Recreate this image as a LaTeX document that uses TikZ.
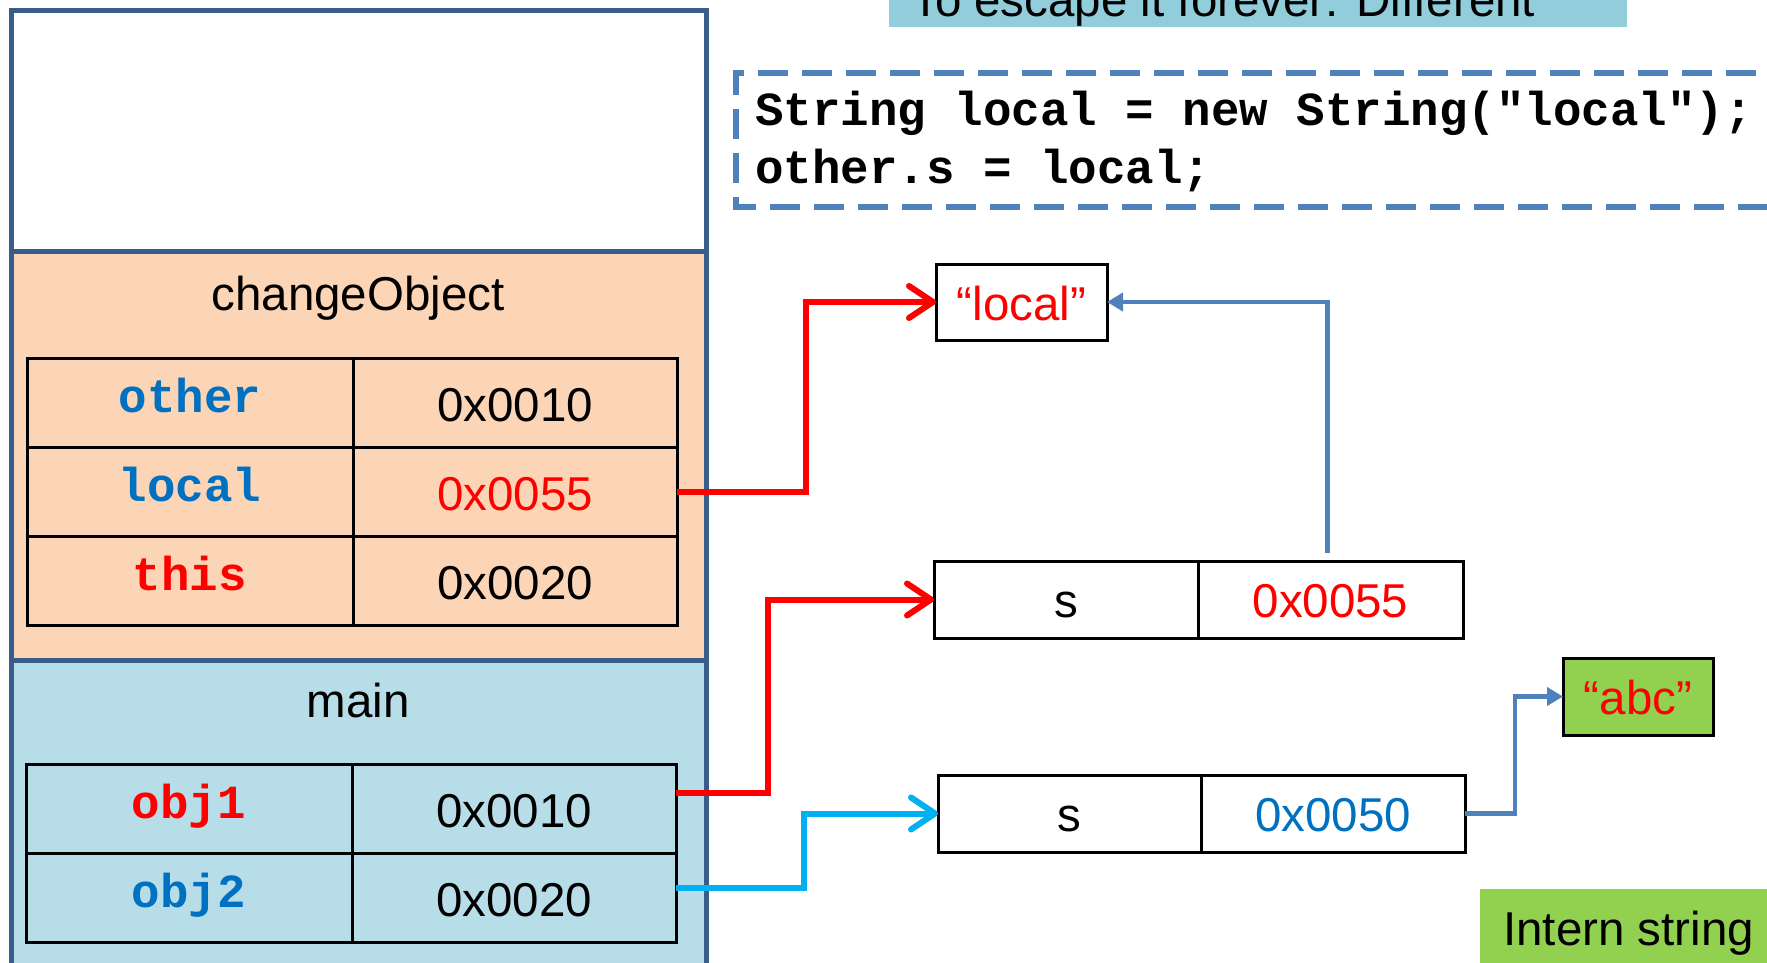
\documentclass[tikz,border=0pt]{standalone}
\usepackage{fontspec}
\setmainfont{Liberation Sans}
\setmonofont{Liberation Mono}
\usetikzlibrary{arrows.meta}
\definecolor{framec}{HTML}{385D8A}
\definecolor{orangef}{HTML}{FBD5B5}
\definecolor{bluef}{HTML}{B7DDE8}
\definecolor{titlef}{HTML}{92CDDC}
\definecolor{greenf}{HTML}{92D050}
\definecolor{accent}{HTML}{4F81BD}
\definecolor{cyanc}{HTML}{00B0F0}
\definecolor{tblue}{HTML}{0070C0}
\definecolor{tred}{HTML}{FF0000}
\tikzset{
  lbl/.style={font=\fontsize{47.5}{57}\selectfont, inner sep=0pt, anchor=base},
  codetxt/.style={font=\fontsize{47.5}{57}\selectfont\ttfamily\bfseries, inner sep=0pt, anchor=base},
  cell/.style={draw=black, line width=3pt, inner sep=0pt, outer sep=0pt, rectangle},
  redarrow/.style={draw=tred, line width=6pt, -{Straight Barb[length=24pt,width=32pt,round]}},
  cyanarrow/.style={draw=cyanc, line width=6pt, -{Straight Barb[length=24pt,width=32pt,round]}},
  bluearrow/.style={draw=accent, line width=4.5pt, -{Triangle[length=16pt,width=18pt]}},
}
\begin{document}
\begin{tikzpicture}[x=1pt,y=-1pt]
\useasboundingbox (0,0) rectangle (1767,963);
\clip (0,0) rectangle (1767,963);
% title box (cut off at top)
\node[fill=titlef, inner sep=0pt, outer sep=0pt, minimum width=738pt, minimum height=60pt] (titlebox) at (1258,-3) {};
\node[lbl, anchor=base west] (titletxt) at (911,17) {To escape it forever: Different};
% stack frame
\fill[white] (11,11) rectangle (706,251);
\fill[orangef] (11,251) rectangle (706,660);
\fill[bluef] (11,660) rectangle (706,990);
\draw[framec, line width=5pt] (11,990) -- (11,11) -- (706,11) -- (706,990);
\draw[framec, line width=5pt] (11,251) -- (706,251);
\draw[framec, line width=5pt] (11,660) -- (706,660);
\node[lbl] (cotitle) at (358,310) {changeObject};
\node[lbl] (maintitle) at (358,717) {main};
% changeObject table
\node[cell, minimum width=326pt, minimum height=89pt] (c1n) at (190,402.5) {};
\node[cell, minimum width=324pt, minimum height=89pt] (c1v) at (515,402.5) {};
\node[cell, minimum width=326pt, minimum height=89pt] (c2n) at (190,491.5) {};
\node[cell, minimum width=324pt, minimum height=89pt] (c2v) at (515,491.5) {};
\node[cell, minimum width=326pt, minimum height=89pt] (c3n) at (190,580.5) {};
\node[cell, minimum width=324pt, minimum height=89pt] (c3v) at (515,580.5) {};
\node[codetxt, text=tblue] (t1n) at (190,412) {other};
\node[lbl] (t1v) at (515,421) {0x0010};
\node[codetxt, text=tblue] (t2n) at (190,501) {local};
\node[lbl, text=tred] (t2v) at (515,510) {0x0055};
\node[codetxt, text=tred] (t3n) at (190,590) {this};
\node[lbl] (t3v) at (515,599) {0x0020};
% main table
\node[cell, minimum width=326pt, minimum height=89pt] (m1n) at (189,808.5) {};
\node[cell, minimum width=324pt, minimum height=89pt] (m1v) at (514,808.5) {};
\node[cell, minimum width=326pt, minimum height=89pt] (m2n) at (189,897.5) {};
\node[cell, minimum width=324pt, minimum height=89pt] (m2v) at (514,897.5) {};
\node[codetxt, text=tred] (u1n) at (189,818) {obj1};
\node[lbl] (u1v) at (514,827) {0x0010};
\node[codetxt, text=tblue] (u2n) at (189,907) {obj2};
\node[lbl] (u2v) at (514,916) {0x0020};
% code box
\draw[accent, line width=6pt, dash pattern=on 30pt off 14pt] (1800,73) -- (736,73) -- (736,207) -- (1800,207);
\node[codetxt, anchor=base west] (code1) at (755,126) {String local = new String("local");};
\node[codetxt, anchor=base west] (code2) at (755,183) {other.s = local;};
% heap objects
\node[cell, minimum width=171pt, minimum height=76pt] (lstr) at (1021.5,302) {};
\node[lbl, text=tred] (lstrt) at (1021.5,320) {“local”};
\node[cell, minimum width=264pt, minimum height=77pt] (s1n) at (1066,599.5) {};
\node[cell, minimum width=265pt, minimum height=77pt] (s1v) at (1330.5,599.5) {};
\node[lbl] (s1nt) at (1066,617) {s};
\node[lbl, text=tred] (s1vt) at (1330.5,617) {0x0055};
\node[cell, minimum width=263pt, minimum height=77pt] (s2n) at (1069.5,813.5) {};
\node[cell, minimum width=264pt, minimum height=77pt] (s2v) at (1333,813.5) {};
\node[lbl] (s2nt) at (1069.5,831) {s};
\node[lbl, text=tblue] (s2vt) at (1333,831) {0x0050};
\node[cell, fill=greenf, minimum width=150pt, minimum height=77pt] (abc) at (1638,696.5) {};
\node[lbl, text=tred] (abct) at (1638,714) {“abc”};
\node[fill=greenf, inner sep=0pt, outer sep=0pt, minimum width=320pt, minimum height=100pt, anchor=north west] (intern) at (1480,889) {};
\node[lbl, anchor=base west] (interntxt) at (1503,945) {Intern string};
% connectors
\draw[redarrow] (c2v.east) -- ++(129,0) |- (lstr.west);
\draw[redarrow] ([yshift=16pt]m1v.east) -- ++(92,0) |- (s1n.west);
\draw[cyanarrow] ([yshift=10pt]m2v.east) -- ++(128,0) |- (s2n.west);
\draw[bluearrow, shorten <=8pt] ([xshift=-3pt]s1v.north) |- (lstr.east);
\draw[bluearrow] (s2v.east) -- ++(50,0) |- (abc.west);
\end{tikzpicture}
\end{document}
